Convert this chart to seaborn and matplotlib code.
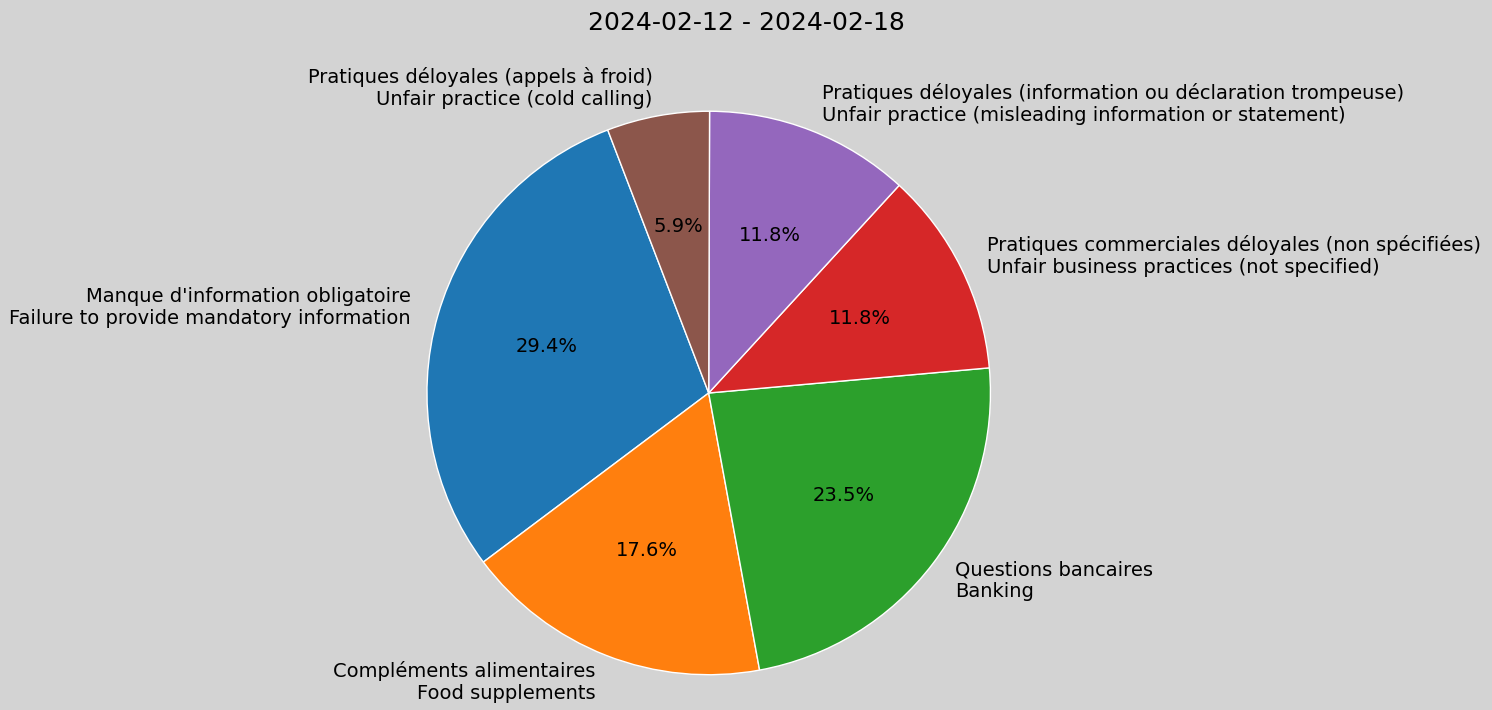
import matplotlib
matplotlib.use("Agg")
import matplotlib.pyplot as plt
import seaborn as sns

# Weekly complaint counts per category
categories = [
    "Manque d'information obligatoire\nFailure to provide mandatory information",
    "Compléments alimentaires\nFood supplements",
    "Questions bancaires\nBanking",
    "Pratiques commerciales déloyales (non spécifiées)\nUnfair business practices (not specified)",
    "Pratiques déloyales (information ou déclaration trompeuse)\nUnfair practice (misleading information or statement)",
    "Pratiques déloyales (appels à froid)\nUnfair practice (cold calling)",
]
counts = [5, 3, 4, 2, 2, 1]
title = "2024-02-12 - 2024-02-18"

sns.set_theme(style="white")
plt.rcParams['font.family'] = ['DejaVu Sans']
colors = sns.color_palette("tab10", len(counts))

fig = plt.figure(figsize=(14.92, 7.1), dpi=100, facecolor="#d3d3d3")
ax = fig.add_axes([0.0, 0.01, 0.95, 0.873])
ax.set_facecolor("#d3d3d3")
ax.pie(counts, labels=categories, colors=colors, autopct="%1.1f%%",
       startangle=111, wedgeprops={"edgecolor": "white", "linewidth": 1},
       textprops={"fontsize": 14, "color": "black"}, radius=1.0)
ax.axis("equal")
fig.suptitle(title, fontsize=18, y=0.985, color="black")
fig.savefig("out.png", dpi=100, facecolor=fig.get_facecolor())
